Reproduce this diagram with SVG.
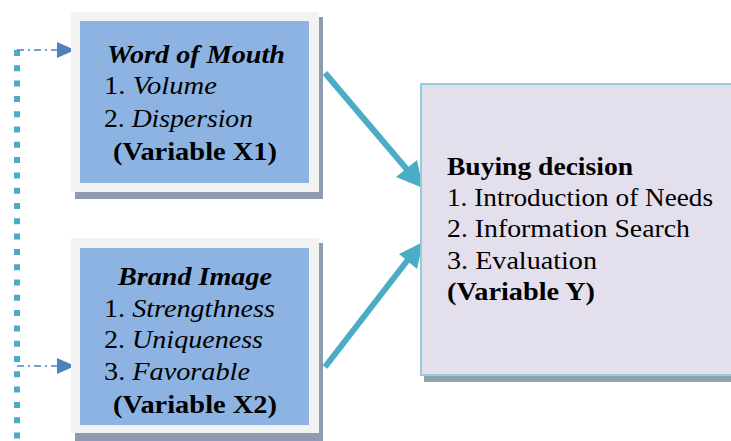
<svg xmlns="http://www.w3.org/2000/svg" width="731" height="441" viewBox="0 0 731 441">
<defs>
<style>
text{font-family:"Liberation Serif","Times New Roman",serif;font-size:26px;fill:#000}
.b{font-weight:bold}
.i{font-style:italic}
.frame{fill:#f2f2f2}
.shadow{fill:#8f9bb0}
.blue{fill:#8db3e2}
.teal{stroke:#4bacc6;stroke-width:6;fill:none}
.dd{stroke:#4f81bd;stroke-width:1.5;stroke-dasharray:7 4 2 4;fill:none}
</style>
</defs>
<rect width="731" height="441" fill="#fff"/>
<g id="connectors">
<line x1="17" y1="50" x2="17" y2="441" stroke="#4bacc6" stroke-width="6" stroke-dasharray="6 9.3"/>
<line class="dd" x1="17" y1="50" x2="58" y2="50"/>
<path d="M57,42 L75,50 L57,58 z" fill="#4f81bd"/>
<line class="dd" x1="17" y1="366" x2="58" y2="366"/>
<path d="M57,358 L75,366 L57,374 z" fill="#4f81bd"/>
<line class="teal" x1="325" y1="73" x2="410" y2="173"/>
<path d="M423,188 L396,177 L417,160 z" fill="#4bacc6"/>
<line class="teal" x1="325" y1="367" x2="410" y2="257"/>
<path d="M423,242 L399,254 L417,269 z" fill="#4bacc6"/>
</g>
<g id="word-of-mouth">
<rect class="shadow" x="75" y="17" width="248" height="182"/>
<rect class="frame" x="71" y="12" width="248" height="180"/>
<rect class="blue" x="80" y="21" width="229" height="162"/>
<text x="196" y="63" text-anchor="middle" class="b i" textLength="178" lengthAdjust="spacingAndGlyphs">Word of Mouth</text>
<text x="104" y="94" textLength="113" lengthAdjust="spacingAndGlyphs">1. <tspan class="i">Volume</tspan></text>
<text x="104" y="127" textLength="149" lengthAdjust="spacingAndGlyphs">2. <tspan class="i">Dispersion</tspan></text>
<text x="195" y="160" text-anchor="middle" class="b" textLength="164" lengthAdjust="spacingAndGlyphs">(Variable X1)</text>
</g>
<g id="brand-image">
<rect class="shadow" x="75" y="243" width="248" height="198"/>
<rect class="frame" x="71" y="238" width="248" height="195"/>
<rect class="blue" x="80" y="248" width="229" height="177"/>
<text x="195" y="285" text-anchor="middle" class="b i" textLength="154" lengthAdjust="spacingAndGlyphs">Brand Image</text>
<text x="104" y="317" textLength="171" lengthAdjust="spacingAndGlyphs">1. <tspan class="i">Strengthness</tspan></text>
<text x="104" y="348" textLength="159" lengthAdjust="spacingAndGlyphs">2. <tspan class="i">Uniqueness</tspan></text>
<text x="104" y="380" textLength="146" lengthAdjust="spacingAndGlyphs">3. <tspan class="i">Favorable</tspan></text>
<text x="195" y="413" text-anchor="middle" class="b" textLength="164" lengthAdjust="spacingAndGlyphs">(Variable X2)</text>
</g>
<g id="buying-decision">
<rect x="424" y="88" width="320" height="294" fill="#93a2ad"/>
<rect x="421" y="84" width="320" height="291" fill="#e4dfec" stroke="#92cddc" stroke-width="2"/>
<text x="447" y="175" class="b" textLength="186" lengthAdjust="spacingAndGlyphs">Buying decision</text>
<text x="447" y="206" textLength="266" lengthAdjust="spacingAndGlyphs">1. Introduction of Needs</text>
<text x="447" y="237" textLength="243" lengthAdjust="spacingAndGlyphs">2. Information Search</text>
<text x="447" y="269" textLength="150" lengthAdjust="spacingAndGlyphs">3. Evaluation</text>
<text x="447" y="300" class="b" textLength="148" lengthAdjust="spacingAndGlyphs">(Variable Y)</text>
</g>
</svg>
